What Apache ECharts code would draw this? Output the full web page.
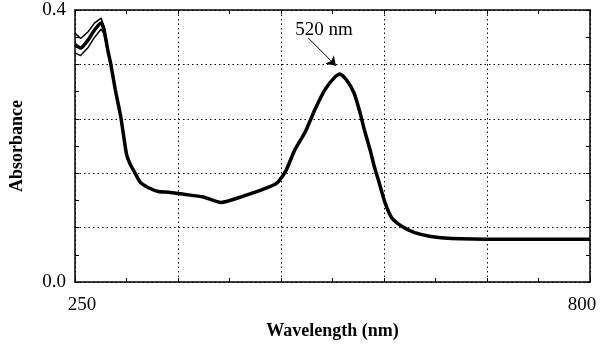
<!DOCTYPE html>
<html>
<head>
<meta charset="utf-8">
<script src="https://cdn.jsdelivr.net/npm/echarts@6/dist/echarts.min.js"></script>
<style>
  html, body { margin: 0; padding: 0; background: #fff; }
  #chart { width: 600px; height: 345px; }
</style>
</head>
<body>
<div id="chart"></div>
<script>
// wavelength (nm) and absorbance
var wavelength = [250, 256, 264, 271, 278, 281, 285, 288, 293, 299, 305, 309, 313, 320, 328, 339, 350, 366, 387, 406, 429, 454, 466, 475, 485, 496, 506, 517, 528, 533, 540, 548, 554, 559, 565, 570, 574, 581, 588, 599, 612, 630, 652, 705, 800];
var absorbance = [0.349, 0.344, 0.356, 0.371, 0.381, 0.371, 0.341, 0.322, 0.283, 0.242, 0.188, 0.173, 0.163, 0.146, 0.139, 0.133, 0.132, 0.129, 0.125, 0.117, 0.126, 0.138, 0.146, 0.163, 0.195, 0.221, 0.253, 0.283, 0.302, 0.306, 0.297, 0.278, 0.251, 0.224, 0.195, 0.168, 0.150, 0.117, 0.095, 0.082, 0.073, 0.067, 0.064, 0.063, 0.063];

// other scans that split apart only at the start
var scanWavelength = [250, 256, 264, 271, 278, 281, 285];
var scanUpper = [0.366, 0.358, 0.368, 0.381, 0.388, 0.375, 0.345];
var scanLower = [0.337, 0.333, 0.345, 0.360, 0.372, 0.365, 0.338];

var xTickLabels = ['250', '800'];
var yTickLabels = ['0.0', '0.4'];

var xStart = 250, xEnd = 800, xStep = 110;
var yMax = 0.4, yStep = 0.08;

// x is plotted relative to 250 so the ticks land on 250 + k*110
function pairs(xs, ys) {
  return xs.map(function (x, i) { return [x - xStart, ys[i]]; });
}

var serif = '"Liberation Serif", "DejaVu Serif", serif';

function xAxisBase(pos) {
  return {
    type: 'value',
    position: pos,
    min: 0,
    max: xEnd - xStart,
    interval: xStep,
    axisLine: { show: true, onZero: false, lineStyle: { color: '#000', width: 1.5 } },
    axisTick: { show: true, inside: true, length: 4, lineStyle: { color: '#000' } },
    minorTick: { show: true, splitNumber: 2, length: 4, lineStyle: { color: '#000' } },
    splitLine: { show: false },
    axisLabel: { show: false }
  };
}

function yAxisBase(pos) {
  return {
    type: 'value',
    position: pos,
    min: 0,
    max: yMax,
    interval: yStep,
    axisLine: { show: true, onZero: false, lineStyle: { color: '#000', width: 1.5 } },
    axisTick: { show: true, inside: true, length: 4, lineStyle: { color: '#000' } },
    minorTick: { show: true, splitNumber: 2, length: 4, lineStyle: { color: '#000' } },
    splitLine: { show: false },
    axisLabel: { show: false }
  };
}

var xBottom = xAxisBase('bottom');
xBottom.name = 'Wavelength (nm)';
xBottom.nameLocation = 'middle';
xBottom.nameGap = 40;
xBottom.nameTextStyle = { fontFamily: serif, fontWeight: 'bold', fontSize: 18, color: '#000' };
xBottom.splitLine = { show: true, lineStyle: { color: '#000', width: 1, type: [1.5, 3] } };
xBottom.axisLabel = {
  show: true,
  margin: 14,
  formatter: function (v) {
    if (v === 0) return '{a|' + xTickLabels[0] + '}';
    if (v === xEnd - xStart) return '{b|' + xTickLabels[1] + '}';
    return '';
  },
  rich: {
    a: { fontFamily: serif, fontSize: 19, color: '#000', padding: [0, 0, 0, 14] },
    b: { fontFamily: serif, fontSize: 19, color: '#000', padding: [0, 16, 0, 0] }
  }
};

var yLeft = yAxisBase('left');
yLeft.name = 'Absorbance';
yLeft.nameLocation = 'middle';
yLeft.nameRotate = 90;
yLeft.nameGap = 49;
yLeft.nameTextStyle = { fontFamily: serif, fontWeight: 'bold', fontSize: 18, color: '#000', padding: [0, 0, 0, 0] };
yLeft.splitLine = { show: true, lineStyle: { color: '#000', width: 1, type: [1.5, 3] } };
yLeft.axisLabel = {
  show: true,
  margin: 9,
  fontFamily: serif,
  fontSize: 19,
  color: '#000',
  formatter: function (v) {
    if (v === 0) return yTickLabels[0];
    if (Math.abs(v - yMax) < 1e-9) return yTickLabels[1];
    return '';
  }
};

var option = {
  animation: false,
  backgroundColor: '#fff',
  grid: { left: 71, right: 10, top: 10, bottom: 62 },
  xAxis: [xBottom, xAxisBase('top')],
  yAxis: [yLeft, yAxisBase('right')],
  series: [
    {
      type: 'line',
      data: pairs(scanWavelength, scanUpper),
      showSymbol: false,
      lineStyle: { color: '#000', width: 1.5 }
    },
    {
      type: 'line',
      data: pairs(scanWavelength, scanLower),
      showSymbol: false,
      lineStyle: { color: '#000', width: 1.5 }
    },
    {
      type: 'line',
      data: pairs(wavelength, absorbance),
      showSymbol: false,
      smooth: 0.2,
      lineStyle: { color: '#000', width: 3.5 },
      markLine: {
        silent: true,
        symbol: ['none', 'arrow'],
        symbolSize: 9,
        lineStyle: { color: '#000', width: 1, type: 'solid' },
        label: { show: false },
        data: [[{ coord: [499 - xStart, 0.359] }, { coord: [528.7 - xStart, 0.318] }]]
      },
      markPoint: {
        silent: true,
        symbol: 'circle',
        symbolSize: 0,
        label: {
          show: true,
          position: 'inside',
          formatter: '520 nm',
          fontFamily: serif,
          fontSize: 19,
          color: '#000'
        },
        data: [{ coord: [516 - xStart, 0.371] }]
      }
    }
  ]
};

echarts.init(document.getElementById('chart')).setOption(option);
</script>
</body>
</html>
